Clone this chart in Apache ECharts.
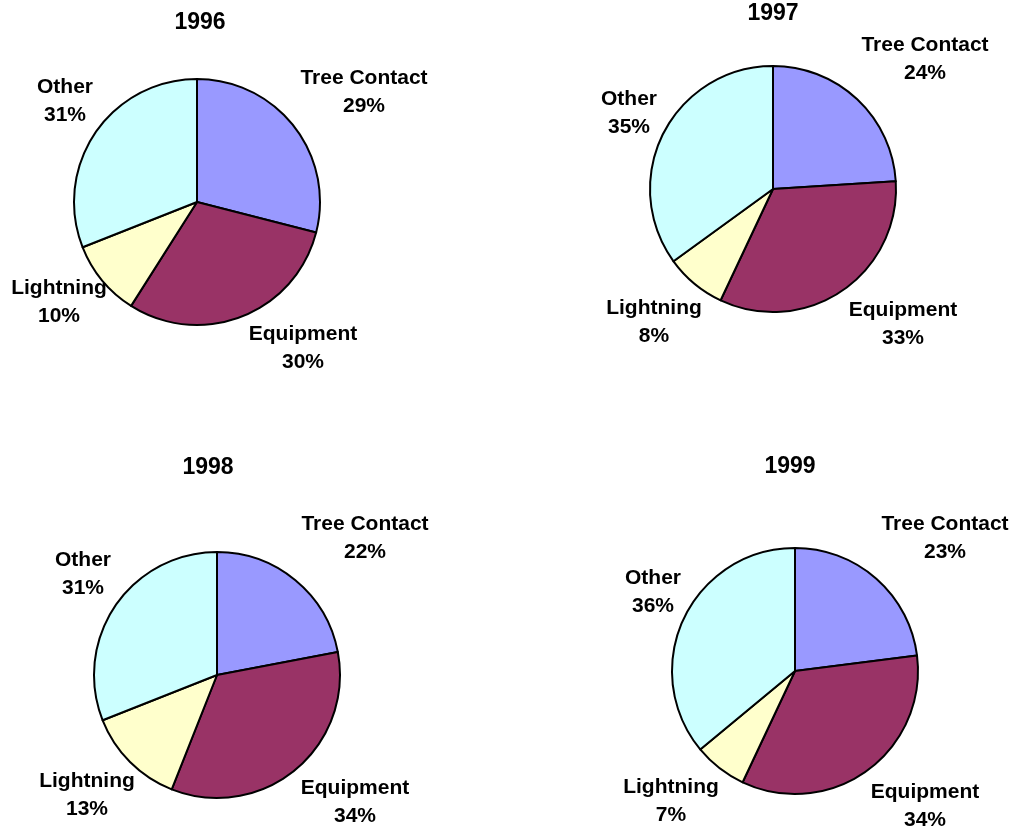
<!DOCTYPE html>
<html>
<head>
<meta charset="utf-8">
<script src="https://cdn.jsdelivr.net/npm/echarts@6/dist/echarts.min.js"></script>
<style>
html,body{margin:0;padding:0;background:#fff;}
#chart{width:1015px;height:830px;}
</style>
</head>
<body>
<div id="chart"></div>
<script>
// ---- data ----
const categories = ['Tree Contact', 'Equipment', 'Lightning', 'Other'];
const years = ['1996', '1997', '1998', '1999'];
const values1996 = [29, 30, 10, 31];
const values1997 = [24, 33, 8, 35];
const values1998 = [22, 34, 13, 31];
const values1999 = [23, 34, 7, 36];
const seriesValues = [values1996, values1997, values1998, values1999];

// ---- layout / style ----
const colors = ['#9999FF', '#993366', '#FFFFCC', '#CCFFFF'];
const pieCenters = [[197, 202], [773, 189], [217, 675], [795, 671]];
const pieRadius = 123;
const titleCenters = [[200, 21], [773, 12], [208, 466], [790, 465]];
// label block centre offsets from each pie's centre (Tree, Equipment, Lightning, Other)
const labelOffsets = [
  [[167, -110], [106, 146], [-138, 100], [-132, -101]],
  [[152, -130], [130, 135], [-119, 133], [-144, -76]],
  [[148, -137], [138, 127], [-130, 120], [-134, -101]],
  [[150, -133], [130, 135], [-124, 130], [-142, -79]]
];
const FONT = '"Liberation Sans", Arial, sans-serif';

const chart = echarts.init(document.getElementById('chart'), null, {renderer: 'canvas'});

const titles = years.map((y, i) => ({
  text: y,
  left: titleCenters[i][0],
  top: titleCenters[i][1] - 10,
  textAlign: 'center',
  padding: 0,
  textStyle: {fontFamily: FONT, fontWeight: 'bold', fontSize: 23, color: '#000'}
}));

const series = years.map((y, i) => ({
  type: 'pie',
  name: y,
  center: pieCenters[i],
  radius: pieRadius,
  startAngle: 90,
  clockwise: true,
  avoidLabelOverlap: false,
  animation: false,
  emphasis: {disabled: true},
  itemStyle: {borderColor: '#000', borderWidth: 2},
  label: {
    show: true,
    position: 'outside',
    formatter: '{b}\n{c}%',
    fontFamily: FONT,
    fontWeight: 'bold',
    fontSize: 21,
    lineHeight: 28,
    color: '#000',
    align: 'center'
  },
  labelLine: {show: false},
  labelLayout: function (p) {
    const off = labelOffsets[i][p.dataIndex];
    return {
      x: pieCenters[i][0] + off[0],
      y: pieCenters[i][1] + off[1],
      align: 'center',
      verticalAlign: 'middle'
    };
  },
  data: categories.map((c, k) => ({name: c, value: seriesValues[i][k], itemStyle: {color: colors[k]}}))
}));

chart.setOption({
  backgroundColor: '#fff',
  animation: false,
  title: titles,
  series: series
});
</script>
</body>
</html>
